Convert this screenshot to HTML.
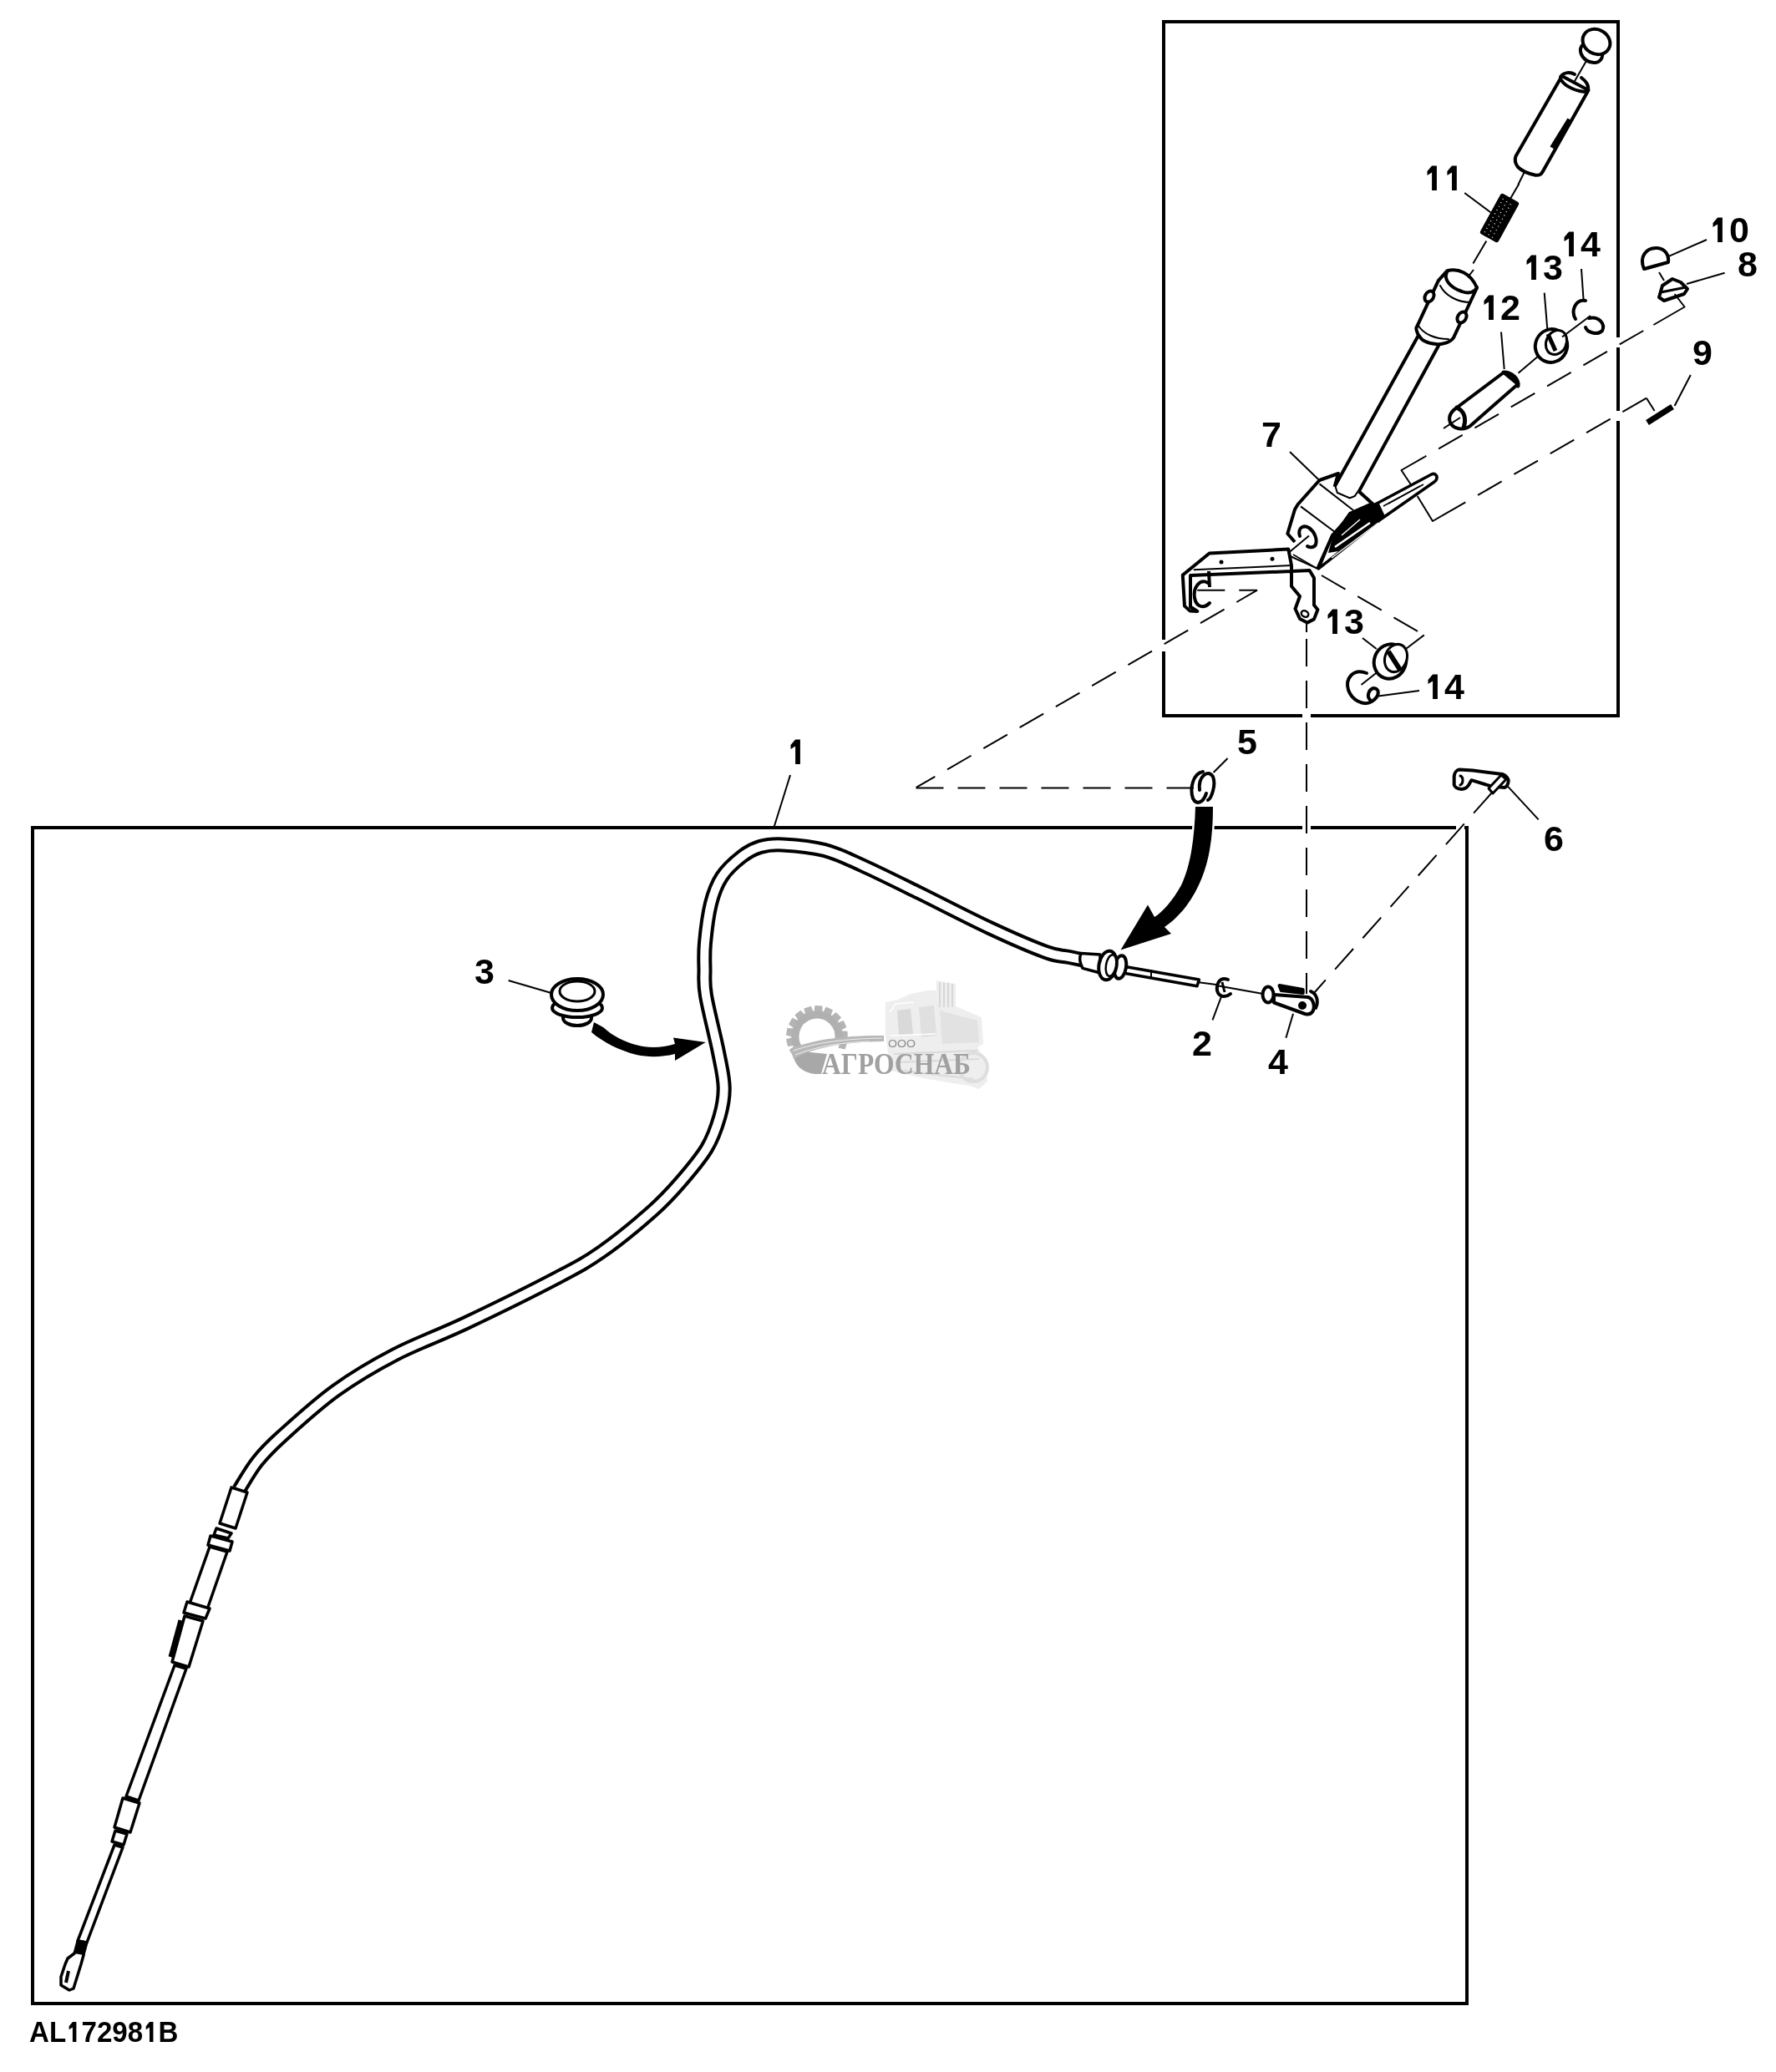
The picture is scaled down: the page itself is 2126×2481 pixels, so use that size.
<!DOCTYPE html>
<html><head><meta charset="utf-8">
<style>
html,body{margin:0;padding:0;background:#fff;}
svg{display:block;will-change:transform;}
text{font-family:"Liberation Sans",sans-serif;font-weight:bold;fill:#000;}
</style></head>
<body>
<svg width="2126" height="2481" viewBox="0 0 2126 2481">
<rect x="0" y="0" width="2126" height="2481" fill="#fff"/>

<!-- ===== boxes ===== -->
<g fill="none" stroke="#000" stroke-width="4">
<rect x="1393" y="26" width="544" height="831"/>
<rect x="39" y="991" width="1717" height="1408"/>
</g>

<path d="M1318.0 1154.0 C1311.7 1152.7 1291.0 1148.3 1280.0 1146.0 C1269.0 1143.7 1267.9 1145.8 1252.0 1140.0 C1236.1 1134.2 1209.8 1122.8 1184.5 1111.0 C1159.2 1099.2 1125.2 1081.4 1100.0 1069.0 C1074.8 1056.6 1051.8 1045.1 1033.0 1036.6 C1014.2 1028.1 1003.0 1022.2 987.0 1018.0 C971.0 1013.8 949.8 1012.1 937.0 1011.4 C924.2 1010.7 918.2 1011.6 910.0 1014.0 C901.8 1016.4 895.3 1020.0 887.6 1026.0 C879.9 1032.0 870.1 1040.7 864.0 1050.0 C857.9 1059.3 854.3 1068.8 851.0 1082.0 C847.7 1095.2 845.2 1116.0 844.0 1129.0 C842.8 1142.0 843.3 1149.5 843.5 1160.0 C843.7 1170.5 842.2 1175.3 845.0 1192.0 C847.8 1208.7 856.4 1241.7 860.0 1260.0 C863.6 1278.3 866.5 1289.2 866.7 1302.0 C867.0 1314.8 865.0 1324.8 861.5 1337.0 C858.0 1349.2 853.8 1362.0 846.0 1375.0 C838.2 1388.0 825.8 1402.5 815.0 1415.0 C804.2 1427.5 796.8 1436.0 781.0 1450.0 C765.2 1464.0 739.3 1485.5 720.0 1499.0 C700.7 1512.5 692.0 1516.8 665.0 1531.0 C638.0 1545.2 590.0 1568.8 558.0 1584.0 C526.0 1599.2 499.0 1608.5 473.0 1622.0 C447.0 1635.5 424.7 1648.7 402.0 1665.0 C379.3 1681.3 352.7 1705.8 337.0 1720.0 C321.3 1734.2 316.5 1739.3 308.0 1750.0 C299.5 1760.7 289.7 1778.3 286.0 1784.0" fill="none" stroke="#000" stroke-width="18" stroke-linejoin="round"/>
<path d="M1318.0 1154.0 C1311.7 1152.7 1291.0 1148.3 1280.0 1146.0 C1269.0 1143.7 1267.9 1145.8 1252.0 1140.0 C1236.1 1134.2 1209.8 1122.8 1184.5 1111.0 C1159.2 1099.2 1125.2 1081.4 1100.0 1069.0 C1074.8 1056.6 1051.8 1045.1 1033.0 1036.6 C1014.2 1028.1 1003.0 1022.2 987.0 1018.0 C971.0 1013.8 949.8 1012.1 937.0 1011.4 C924.2 1010.7 918.2 1011.6 910.0 1014.0 C901.8 1016.4 895.3 1020.0 887.6 1026.0 C879.9 1032.0 870.1 1040.7 864.0 1050.0 C857.9 1059.3 854.3 1068.8 851.0 1082.0 C847.7 1095.2 845.2 1116.0 844.0 1129.0 C842.8 1142.0 843.3 1149.5 843.5 1160.0 C843.7 1170.5 842.2 1175.3 845.0 1192.0 C847.8 1208.7 856.4 1241.7 860.0 1260.0 C863.6 1278.3 866.5 1289.2 866.7 1302.0 C867.0 1314.8 865.0 1324.8 861.5 1337.0 C858.0 1349.2 853.8 1362.0 846.0 1375.0 C838.2 1388.0 825.8 1402.5 815.0 1415.0 C804.2 1427.5 796.8 1436.0 781.0 1450.0 C765.2 1464.0 739.3 1485.5 720.0 1499.0 C700.7 1512.5 692.0 1516.8 665.0 1531.0 C638.0 1545.2 590.0 1568.8 558.0 1584.0 C526.0 1599.2 499.0 1608.5 473.0 1622.0 C447.0 1635.5 424.7 1648.7 402.0 1665.0 C379.3 1681.3 352.7 1705.8 337.0 1720.0 C321.3 1734.2 316.5 1739.3 308.0 1750.0 C299.5 1760.7 289.7 1778.3 286.0 1784.0" fill="none" stroke="#fff" stroke-width="10" stroke-linejoin="round"/>
<rect x="1559.0" y="987.0" width="10.0" height="8.0" fill="#fff"/>
<rect x="1559.0" y="853.0" width="10.0" height="8.0" fill="#fff"/>
<rect x="1743.0" y="986.0" width="10.0" height="8.0" fill="#fff"/>
<rect x="1752.0" y="986.0" width="8.0" height="3.0" fill="#fff"/>
<rect x="1389.0" y="766.0" width="8.0" height="14.0" fill="#fff"/>
<rect x="1933.0" y="404.0" width="8.0" height="12.0" fill="#fff"/>
<rect x="1933.0" y="492.0" width="8.0" height="12.0" fill="#fff"/>
<path d="M1096.5 943.6 L1429.0 943.6" fill="none" stroke="#000" stroke-width="2" stroke-dasharray="33 17" stroke-dashoffset="0"/>
<path d="M1096.8 942.8 L1505.0 706.7" fill="none" stroke="#000" stroke-width="2" stroke-dasharray="33 17" stroke-dashoffset="7"/>
<line x1="1564.0" y1="746.0" x2="1564.0" y2="757.0" stroke="#000" stroke-width="2"/>
<path d="M1564.0 765.0 L1564.0 1190.0" fill="none" stroke="#000" stroke-width="2" stroke-dasharray="33 17" stroke-dashoffset="0"/>
<path d="M1786.0 949.0 L1573.0 1189.0" fill="none" stroke="#000" stroke-width="2" stroke-dasharray="33 17" stroke-dashoffset="0"/>
<path d="M277 1781 L296 1787 L282 1830 L263 1824 Z" fill="#fff" stroke="#000" stroke-width="3.5" stroke-linejoin="round" stroke-linecap="round" />
<path d="M259 1830 L277 1836 L273 1842 L256 1838 Z" fill="#fff" stroke="#000" stroke-width="3.5" stroke-linejoin="round" stroke-linecap="round" />
<path d="M252 1839 L278 1846 L275 1857 L249 1850 Z" fill="#fff" stroke="#000" stroke-width="3.5" stroke-linejoin="round" stroke-linecap="round" />
<path d="M251 1852 L272 1858 L248 1927 L227 1920 Z" fill="#fff" stroke="#000" stroke-width="3.5" stroke-linejoin="round" stroke-linecap="round" />
<path d="M224 1918 L251 1926 L246 1938 L220 1931 Z" fill="#fff" stroke="#000" stroke-width="3.5" stroke-linejoin="round" stroke-linecap="round" />
<path d="M221 1935 L243 1941 L226 1996 L206 1990 Z" fill="#fff" stroke="#000" stroke-width="3.5" stroke-linejoin="round" stroke-linecap="round" />
<path d="M209 1994 L223 1998 L166 2156 L151 2151 Z" fill="#fff" stroke="#000" stroke-width="3.5" stroke-linejoin="round" stroke-linecap="round" />
<path d="M147 2153 L167 2159 L156 2194 L137 2188 Z" fill="#fff" stroke="#000" stroke-width="3.5" stroke-linejoin="round" stroke-linecap="round" />
<path d="M138 2192 L152 2196 L148 2209 L134 2205 Z" fill="#fff" stroke="#000" stroke-width="3.5" stroke-linejoin="round" stroke-linecap="round" />
<path d="M137 2209 L147 2212 L104 2326 L93 2324 Z" fill="#fff" stroke="#000" stroke-width="3.5" stroke-linejoin="round" stroke-linecap="round" />
<line x1="216.0" y1="1940.0" x2="204.0" y2="1984.0" stroke="#000" stroke-width="5"/>
<path d="M93 2324 L104 2326 L100 2341 L89 2339 Z" fill="#000" stroke="#000" stroke-width="3" stroke-linejoin="round"/>
<path d="M89 2339 L81 2345 L78 2352 L73 2367 L73 2377 L83 2383 L88 2381 L97 2352 L100 2341" fill="#fff" stroke="#000" stroke-width="3.5" stroke-linejoin="round" stroke-linecap="round" />
<line x1="82.0" y1="2360.0" x2="79.0" y2="2374.0" stroke="#000" stroke-width="4"/>
<path d="M1294 1141.4 L1317 1143 L1317 1165 L1296 1159.4 C1292 1152 1292 1146 1294 1141.4 Z" fill="#fff" stroke="#000" stroke-width="3.5" stroke-linejoin="round" stroke-linecap="round" />
<path d="M1338.6 1156.0 L1435.4 1173.0 L1433.0 1180.8 L1338.6 1164.0 Z" fill="#fff" stroke="#000" stroke-width="3.5" stroke-linejoin="round" stroke-linecap="round" />
<line x1="1378.0" y1="1161.0" x2="1378.0" y2="1171.0" stroke="#000" stroke-width="2"/>
<ellipse cx="1341.0" cy="1158.0" rx="7.0" ry="14.0" transform="rotate(10.0 1341.0 1158.0)" fill="#fff" stroke="#000" stroke-width="4"/>
<ellipse cx="1326.0" cy="1156.0" rx="10.5" ry="17.5" transform="rotate(10.0 1326.0 1156.0)" fill="#fff" stroke="#000" stroke-width="4"/>
<ellipse cx="1330.0" cy="1156.0" rx="6.0" ry="13.0" transform="rotate(10.0 1330.0 1156.0)" fill="#fff" stroke="#000" stroke-width="2.5"/>
<line x1="1435.0" y1="1176.3" x2="1456.0" y2="1179.0" stroke="#000" stroke-width="2"/>
<line x1="1899.5" y1="72.0" x2="1884.8" y2="97.4" stroke="#000" stroke-width="2"/>
<ellipse cx="1905.0" cy="63.0" rx="14.0" ry="11.0" transform="rotate(35.0 1905.0 63.0)" fill="#fff" stroke="#000" stroke-width="4"/>
<ellipse cx="1911.0" cy="50.0" rx="17.0" ry="14.5" transform="rotate(30.0 1911.0 50.0)" fill="#fff" stroke="#000" stroke-width="4"/>
<path d="M1869.7 91 L1901.5 108 L1847 205 C1845 209 1843 210 1838 209.7 C1830 208 1822 205 1817 200 C1814 196 1813 191 1814.5 187 Z" fill="#fff" stroke="#000" stroke-width="4" stroke-linejoin="round" stroke-linecap="round" />
<path d="M1868 92 C1872 86 1880 86 1885 89" fill="none" stroke="#000" stroke-width="4" stroke-linejoin="round" stroke-linecap="round" />
<path d="M1869 96 C1874 104 1888 110 1900 110" fill="none" stroke="#000" stroke-width="4" stroke-linejoin="round" stroke-linecap="round" />
<path d="M1893 93 C1898 97 1902 101 1901 108" fill="none" stroke="#000" stroke-width="4" stroke-linejoin="round" stroke-linecap="round" />
<line x1="1879.0" y1="143.0" x2="1858.0" y2="177.0" stroke="#000" stroke-width="6"/>
<line x1="1824.8" y1="206.0" x2="1817.4" y2="221.0" stroke="#000" stroke-width="2"/>
<g transform="rotate(28.8 1795 261)"><rect x="1782.5" y="233.5" width="25" height="55" rx="3" fill="#000"/><line x1="1787" y1="239.0" x2="1803" y2="241.0" stroke="#fff" stroke-width="0.9" stroke-dasharray="1.5 4"/><line x1="1787" y1="244.0" x2="1803" y2="246.0" stroke="#fff" stroke-width="0.9" stroke-dasharray="1.5 4"/><line x1="1787" y1="249.0" x2="1803" y2="251.0" stroke="#fff" stroke-width="0.9" stroke-dasharray="1.5 4"/><line x1="1787" y1="254.0" x2="1803" y2="256.0" stroke="#fff" stroke-width="0.9" stroke-dasharray="1.5 4"/><line x1="1787" y1="259.0" x2="1803" y2="261.0" stroke="#fff" stroke-width="0.9" stroke-dasharray="1.5 4"/><line x1="1787" y1="264.0" x2="1803" y2="266.0" stroke="#fff" stroke-width="0.9" stroke-dasharray="1.5 4"/><line x1="1787" y1="269.0" x2="1803" y2="271.0" stroke="#fff" stroke-width="0.9" stroke-dasharray="1.5 4"/><line x1="1787" y1="274.0" x2="1803" y2="276.0" stroke="#fff" stroke-width="0.9" stroke-dasharray="1.5 4"/><line x1="1787" y1="279.0" x2="1803" y2="281.0" stroke="#fff" stroke-width="0.9" stroke-dasharray="1.5 4"/><line x1="1787" y1="284.0" x2="1803" y2="286.0" stroke="#fff" stroke-width="0.9" stroke-dasharray="1.5 4"/></g>
<line x1="1807.8" y1="238.3" x2="1818.4" y2="220.0" stroke="#000" stroke-width="2"/>
<line x1="1779.3" y1="288.5" x2="1763.4" y2="315.6" stroke="#000" stroke-width="2"/>
<line x1="1753.2" y1="231.0" x2="1785.0" y2="254.7" stroke="#000" stroke-width="2"/>
<path d="M1700.5 397.0 L1723.6 411.0 L1626.8 588.4 L1622.3 595.0 L1615.6 597.4 L1600.0 590.7 L1597.6 582.8 Z" fill="#fff" stroke="#000" stroke-width="4" stroke-linejoin="round" stroke-linecap="round" />
<path d="M1732.5 324.2 C1745 321 1760 326 1768 344.5 L1740 404.4 C1736 410 1726 413 1719 412 C1710 411 1702 408 1699.7 403.4 C1695 398 1695 392 1695.8 391.8 L1721.9 335.8 Z" fill="#fff" stroke="#000" stroke-width="4" stroke-linejoin="round" stroke-linecap="round" />
<path d="M1732 326 C1728 334 1735 344 1750 349 C1758 352 1766 350 1768 344" fill="none" stroke="#000" stroke-width="4" stroke-linejoin="round" stroke-linecap="round" />
<path d="M1724 342 C1730 354 1745 362 1760 362" fill="none" stroke="#000" stroke-width="2" stroke-linejoin="round" stroke-linecap="round" />
<path d="M1698 390 C1704 400 1718 406 1734 406" fill="none" stroke="#000" stroke-width="2" stroke-linejoin="round" stroke-linecap="round" />
<ellipse cx="1711.0" cy="355.0" rx="5.0" ry="7.0" transform="rotate(30.0 1711.0 355.0)" fill="#fff" stroke="#000" stroke-width="4"/>
<ellipse cx="1750.0" cy="380.0" rx="5.0" ry="7.0" transform="rotate(30.0 1750.0 380.0)" fill="#fff" stroke="#000" stroke-width="4"/>
<line x1="1764.0" y1="323.0" x2="1757.0" y2="332.0" stroke="#000" stroke-width="2"/>
<path d="M1602.0 567.0 L1579.5 575.0 L1553.6 604.0 L1550.0 610.0 L1541.3 639.0 L1550.0 649.0 L1567.6 680.8 L1577.3 680.8 L1595.0 641.0 L1620.0 613.0 L1642.6 603.0 L1626.8 588.4 L1622.3 595.0 L1615.6 597.4 L1600.0 590.7 L1597.6 582.8 Z" fill="#fff" stroke="#000" stroke-width="0" stroke-linejoin="round" stroke-linecap="round" />
<path d="M1550.0 649.0 L1541.3 639.0 L1550.0 610.0 L1553.6 604.0 L1579.5 575.0 L1602.0 567.0 L1597.6 582.8" fill="none" stroke="#000" stroke-width="4" stroke-linejoin="round"/>
<path d="M1577.3 680.8 L1595.0 641.0 L1620.0 613.0 L1642.6 603.0" fill="none" stroke="#000" stroke-width="4" stroke-linejoin="round"/>
<line x1="1579.5" y1="579.4" x2="1620.0" y2="611.0" stroke="#000" stroke-width="2"/>
<line x1="1557.0" y1="606.4" x2="1597.6" y2="636.8" stroke="#000" stroke-width="2"/>
<line x1="1626.8" y1="588.4" x2="1645.0" y2="605.0" stroke="#000" stroke-width="4"/>
<path d="M1556 642 C1553 632 1560 628 1567 632 C1574 637 1577 646 1575 652 C1573 656 1568 656 1565 654" fill="none" stroke="#000" stroke-width="4" stroke-linejoin="round" stroke-linecap="round" />
<path d="M1567.0 641.4 L1540.0 664.0 L1577.3 680.8" fill="none" stroke="#000" stroke-width="2" stroke-linejoin="round"/>
<path d="M1548.0 664.0 L1577.0 681.0" fill="none" stroke="#000" stroke-width="1.5" stroke-linejoin="round"/>
<path d="M1648 603 L1713.5 568 C1718 566 1722 570 1719 575 L1717 577 L1654 621 L1578.4 680.8 L1595 641 Z" fill="#fff" stroke="#000" stroke-width="3.5" stroke-linejoin="round" stroke-linecap="round" />
<path d="M1615 613 L1650 601 L1658 618 L1602 660 L1590 662 L1596 640 Z" fill="#000"/>
<line x1="1606.0" y1="641.0" x2="1628.0" y2="622.0" stroke="#fff" stroke-width="1.5"/>
<line x1="1598.0" y1="655.0" x2="1640.0" y2="626.0" stroke="#fff" stroke-width="2.5"/>
<line x1="1594.0" y1="668.0" x2="1650.0" y2="626.0" stroke="#fff" stroke-width="1.5"/>
<line x1="1662.0" y1="603.0" x2="1700.0" y2="582.0" stroke="#000" stroke-width="1.5"/>
<line x1="1656.0" y1="606.0" x2="1704.0" y2="580.0" stroke="#000" stroke-width="1.5"/>
<line x1="1544.0" y1="541.0" x2="1580.0" y2="575.7" stroke="#000" stroke-width="2"/>
<path d="M1447.7 662.5 L1542.3 657.6 L1546.0 677.0 L1546.0 702.0 L1556.0 714.0 L1550.5 729.0 L1556.0 741.0 L1564.8 745.6 L1573.0 741.4 L1577.4 730.0 L1573.0 724.5 L1573.0 692.0 L1567.6 683.0 L1546.0 684.0 L1425.0 689.0 L1425.0 726.5 L1433.3 732.0 L1424.3 731.4 L1418.0 725.6 L1415.8 688.6 L1418.0 686.8 Z" fill="#fff" stroke="#000" stroke-width="4" stroke-linejoin="round" stroke-linecap="round" />
<line x1="1428.8" y1="682.3" x2="1546.0" y2="677.0" stroke="#000" stroke-width="2"/>
<circle cx="1462" cy="673" r="2.5" fill="#000"/><circle cx="1523" cy="669.3" r="2.5" fill="#000"/>
<ellipse cx="1562.0" cy="735.0" rx="4.5" ry="3.5" transform="rotate(30.0 1562.0 735.0)" fill="#fff" stroke="#000" stroke-width="2.5"/>
<path d="M1446 698 C1436 692 1428 704 1430 716 C1432 726 1440 730 1448 722" fill="none" stroke="#000" stroke-width="4" stroke-linejoin="round" stroke-linecap="round" />
<line x1="1447.0" y1="684.0" x2="1448.0" y2="703.0" stroke="#000" stroke-width="4"/>
<path d="M1582.0 689.0 L1704.8 760.4" fill="none" stroke="#000" stroke-width="2" stroke-dasharray="33 17" stroke-dashoffset="0"/>
<line x1="1704.8" y1="760.4" x2="1681.6" y2="778.0" stroke="#000" stroke-width="2"/>
<path d="M1433.3 706.7 L1505.0 706.7" fill="none" stroke="#000" stroke-width="2" stroke-dasharray="33 17" stroke-dashoffset="0"/>
<line x1="1660.5" y1="795.5" x2="1629.5" y2="820.0" stroke="#000" stroke-width="2"/>
<ellipse cx="1664.0" cy="792.0" rx="19.0" ry="21.0" transform="rotate(20.0 1664.0 792.0)" fill="#fff" stroke="#000" stroke-width="4"/>
<ellipse cx="1671.0" cy="788.0" rx="13.0" ry="17.0" transform="rotate(20.0 1671.0 788.0)" fill="#fff" stroke="#000" stroke-width="3"/>
<line x1="1662.0" y1="780.0" x2="1676.0" y2="802.0" stroke="#000" stroke-width="6"/>
<path d="M1636 806 C1620 800 1610 812 1614 826 C1618 838 1632 846 1642 840 C1652 834 1652 824 1644 824 C1638 826 1636 834 1640 838" fill="none" stroke="#000" stroke-width="4" stroke-linejoin="round" stroke-linecap="round" />
<line x1="1650.0" y1="833.5" x2="1699.0" y2="827.0" stroke="#000" stroke-width="2"/>
<line x1="1631.0" y1="764.0" x2="1647.8" y2="777.0" stroke="#000" stroke-width="2"/>
<path d="M1800 446 L1817 460 L1760 510 C1752 516 1740 514 1736 506 C1733 498 1738 492 1744 488 Z" fill="#fff" stroke="#000" stroke-width="4" stroke-linejoin="round" stroke-linecap="round" />
<path d="M1744 488 C1752 492 1756 500 1752 512" fill="none" stroke="#000" stroke-width="5" stroke-linejoin="round" stroke-linecap="round" />
<path d="M1800 446 C1810 446 1818 454 1817 462" fill="none" stroke="#000" stroke-width="5" stroke-linejoin="round" stroke-linecap="round" />
<line x1="1817.5" y1="446.7" x2="1848.7" y2="420.3" stroke="#000" stroke-width="2"/>
<line x1="1748.0" y1="500.0" x2="1728.0" y2="513.0" stroke="#000" stroke-width="2"/>
<line x1="1797.0" y1="397.5" x2="1800.7" y2="442.0" stroke="#000" stroke-width="2"/>
<ellipse cx="1857.0" cy="414.0" rx="19.0" ry="20.0" transform="rotate(25.0 1857.0 414.0)" fill="#fff" stroke="#000" stroke-width="4"/>
<ellipse cx="1863.0" cy="410.0" rx="12.0" ry="15.0" transform="rotate(25.0 1863.0 410.0)" fill="#fff" stroke="#000" stroke-width="3"/>
<line x1="1853.0" y1="400.0" x2="1862.0" y2="420.0" stroke="#000" stroke-width="5"/>
<line x1="1848.7" y1="350.7" x2="1852.3" y2="394.0" stroke="#000" stroke-width="2"/>
<line x1="1870.0" y1="403.5" x2="1904.0" y2="378.0" stroke="#000" stroke-width="2"/>
<path d="M1898 360 C1886 358 1880 372 1886 382" fill="none" stroke="#000" stroke-width="4" stroke-linejoin="round" stroke-linecap="round" />
<path d="M1902 381 C1914 378 1922 388 1918 396 C1912 402 1900 398 1898 392" fill="none" stroke="#000" stroke-width="4" stroke-linejoin="round" stroke-linecap="round" />
<line x1="1893.0" y1="322.0" x2="1895.5" y2="358.0" stroke="#000" stroke-width="2"/>
<path d="M1968 322 C1962 308 1970 296 1984 297 C1994 298 1998 306 1997 314 Z" fill="#fff" stroke="#000" stroke-width="4" stroke-linejoin="round" stroke-linecap="round" />
<line x1="1970.0" y1="322.0" x2="1997.0" y2="314.0" stroke="#000" stroke-width="3"/>
<line x1="1996.0" y1="307.6" x2="2043.0" y2="287.0" stroke="#000" stroke-width="2"/>
<line x1="1986.0" y1="326.0" x2="1992.0" y2="336.0" stroke="#000" stroke-width="2"/>
<path d="M1990.0 342.0 L2002.0 334.0 L2012.0 338.0 L2020.0 346.0 L2016.0 352.0 L1992.0 360.0 L1986.0 356.0 Z" fill="#fff" stroke="#000" stroke-width="4" stroke-linejoin="round" stroke-linecap="round" />
<line x1="1988.0" y1="350.0" x2="2018.0" y2="344.0" stroke="#000" stroke-width="3"/>
<line x1="2019.0" y1="340.0" x2="2064.6" y2="326.8" stroke="#000" stroke-width="2"/>
<path d="M2004.6 352.0 L2016.6 367.5 L1979.4 389.0" fill="none" stroke="#000" stroke-width="2" stroke-linejoin="round"/>
<path d="M1979.4 389.0 L1705.7 546.8" fill="none" stroke="#000" stroke-width="2" stroke-dasharray="33 17" stroke-dashoffset="-14"/>
<path d="M1705.7 546.8 L1677.5 563.0 L1688.8 580.0" fill="none" stroke="#000" stroke-width="2" stroke-linejoin="round"/>
<line x1="1972.0" y1="506.0" x2="2002.0" y2="487.0" stroke="#000" stroke-width="7"/>
<line x1="2004.6" y1="486.0" x2="2023.8" y2="449.0" stroke="#000" stroke-width="2"/>
<path d="M1980.6 492.0 L1971.0 476.7" fill="none" stroke="#000" stroke-width="2" stroke-linejoin="round"/>
<path d="M1971.0 476.7 L1726.0 617.7" fill="none" stroke="#000" stroke-width="2" stroke-dasharray="33 17" stroke-dashoffset="0"/>
<path d="M1726.0 617.7 L1715.0 624.0 L1696.7 594.0" fill="none" stroke="#000" stroke-width="2" stroke-linejoin="round"/>
<line x1="1452.6" y1="925.0" x2="1469.6" y2="908.0" stroke="#000" stroke-width="2"/>
<line x1="1804.7" y1="941.4" x2="1841.7" y2="981.4" stroke="#000" stroke-width="2"/>
<line x1="946.0" y1="928.0" x2="926.7" y2="990.0" stroke="#000" stroke-width="2"/>
<line x1="608.6" y1="1174.0" x2="661.6" y2="1189.5" stroke="#000" stroke-width="2"/>
<line x1="1462.0" y1="1193.4" x2="1451.5" y2="1221.4" stroke="#000" stroke-width="2"/>
<line x1="1548.0" y1="1213.7" x2="1539.4" y2="1242.7" stroke="#000" stroke-width="2"/>
<path d="M1440 924 C1428 926 1424 944 1428 956 C1432 964 1440 962 1444 950" fill="none" stroke="#000" stroke-width="4" stroke-linejoin="round" stroke-linecap="round" />
<path d="M1436 946 C1434 930 1446 920 1452 930 C1456 940 1450 956 1446 958" fill="none" stroke="#000" stroke-width="4" stroke-linejoin="round" stroke-linecap="round" />
<path d="M1747 921.6 L1763 922.5 L1798.4 927 C1804 929 1806 933 1805.6 936 C1805 940 1804 942 1801 943 L1785 941.4 L1761.4 934.2 C1759 938 1758 941 1757 941.4 C1755 944 1752 945 1749.7 945 C1744 945 1741 942 1740.7 939.6 L1740.7 929.7 C1741 925 1744 922 1747 921.6 Z" fill="#fff" stroke="#000" stroke-width="4" stroke-linejoin="round" stroke-linecap="round" />
<path d="M1748 929 C1752 930 1752 938 1748 940" fill="none" stroke="#000" stroke-width="3" stroke-linejoin="round" stroke-linecap="round" />
<path d="M1782.0 944.0 L1797.0 928.0 L1803.0 933.0 L1787.0 950.0 Z" fill="#fff" stroke="#000" stroke-width="3" stroke-linejoin="round" stroke-linecap="round" />
<ellipse cx="691.0" cy="1219.0" rx="17.0" ry="9.0" transform="rotate(0.0 691.0 1219.0)" fill="#fff" stroke="#000" stroke-width="4"/>
<ellipse cx="691.0" cy="1207.0" rx="30.0" ry="11.0" transform="rotate(0.0 691.0 1207.0)" fill="#fff" stroke="#000" stroke-width="4"/>
<ellipse cx="691.0" cy="1191.0" rx="31.0" ry="19.0" transform="rotate(0.0 691.0 1191.0)" fill="#fff" stroke="#000" stroke-width="4"/>
<ellipse cx="691.0" cy="1187.0" rx="21.0" ry="12.0" transform="rotate(0.0 691.0 1187.0)" fill="#fff" stroke="#000" stroke-width="3"/>
<path d="M1470 1173 C1460 1169 1456 1178 1457 1186 C1459 1194 1467 1195 1473 1190" fill="none" stroke="#000" stroke-width="4" stroke-linejoin="round" stroke-linecap="round" />
<line x1="1463.0" y1="1176.0" x2="1466.0" y2="1188.0" stroke="#000" stroke-width="3"/>
<line x1="1456.0" y1="1180.0" x2="1512.0" y2="1190.0" stroke="#000" stroke-width="2"/>
<path d="M1531.5 1180.0 L1559.7 1185.0 L1559.7 1189.0 L1533.8 1186.0 Z" fill="#000" stroke="#000" stroke-width="4" stroke-linejoin="round" stroke-linecap="round" />
<path d="M1525 1191 L1566 1194 C1572 1196 1574 1204 1572 1210 C1570 1214 1566 1215 1562 1214 L1525 1200.5 Z" fill="#fff" stroke="#000" stroke-width="4" stroke-linejoin="round" stroke-linecap="round" />
<ellipse cx="1518.0" cy="1191.0" rx="6.5" ry="9.5" transform="rotate(0.0 1518.0 1191.0)" fill="#fff" stroke="#000" stroke-width="4"/>
<circle cx="1559" cy="1204" r="5" fill="#000"/>
<path d="M1569 1187 C1576 1190 1579 1198 1575 1207" fill="none" stroke="#000" stroke-width="4" stroke-linejoin="round" stroke-linecap="round" />
<path d="M1431 966 L1452 966 C1452 1010 1446 1050 1420 1085 C1410 1098 1400 1106 1394 1110 L1402 1118 L1341.5 1137.5 L1374 1083.5 L1382 1098 C1392 1092 1404 1078 1414 1060 C1426 1035 1430 1000 1431 966 Z" fill="#000" stroke="#fff" stroke-width="5" paint-order="stroke"/>
<path d="M711 1224 L722 1230 C735 1242 752 1250 770 1253 C782 1255 795 1254 808 1250 L806 1242.6 L844.7 1248 L808 1270 L808 1262 C792 1266 776 1266 762 1263 C742 1258 722 1248 708 1236 Z" fill="#000"/>
<g><path d="M1060 1200 L1075 1197 L1090 1190 L1110 1186 L1121 1186 L1121 1174 L1144 1178 L1144 1205 L1175 1218 L1177 1250 L1170 1254 L1180 1270 L1182 1295 L1172 1304 L1160 1300 L1110 1292 L1066 1282 L1062 1252 L1060 1240 Z" fill="#eeeeee"/><path d="M1074 1210 L1090 1208 L1093 1239 L1076 1240 Z" fill="#d9d9d9"/><path d="M1100 1206 L1118 1204 L1121 1240 L1103 1242 Z" fill="#e0e0e0"/><path d="M1125 1210 L1170 1222 L1172 1248 L1128 1250 Z" fill="#e2e2e2"/><path d="M1070 1262 L1170 1258 M1072 1272 L1172 1268 M1080 1282 L1165 1292" stroke="#dadada" stroke-width="2" fill="none"/><circle cx="1165" cy="1278" r="17" fill="none" stroke="#dedede" stroke-width="4"/><path d="M1125 1176 L1125 1206 M1130 1177 L1130 1206 M1135 1177 L1135 1206 M1140 1178 L1140 1206" stroke="#cfcfcf" stroke-width="1.5"/><path d="M1065 1212 L1072 1202 L1094 1200 M1066 1240 L1120 1238" stroke="#fff" stroke-width="1.5" fill="none"/><path d="M1003.5 1254.8 L1011.6 1256.6 L1014.3 1248.1 L1006.7 1244.9 Z M1006.8 1244.7 L1014.9 1243.5 L1014.5 1234.7 L1006.2 1234.3 Z M1006.2 1234.1 L1013.4 1230.1 L1009.8 1222.0 L1002.0 1224.7 Z M1001.8 1224.5 L1007.1 1218.2 L1000.8 1211.9 L994.5 1217.2 Z M994.3 1217.0 L997.0 1209.2 L988.9 1205.6 L984.9 1212.8 Z M984.7 1212.8 L984.3 1204.5 L975.5 1204.1 L974.3 1212.2 Z M974.1 1212.3 L970.9 1204.7 L962.4 1207.4 L964.2 1215.5 Z M964.1 1215.6 L958.3 1209.7 L951.4 1215.2 L956.0 1222.1 Z M955.9 1222.2 L948.4 1218.8 L944.0 1226.5 L950.7 1231.2 Z M950.6 1231.4 L942.4 1230.9 L941.0 1239.6 L949.0 1241.7 Z M949.0 1241.9 L941.1 1244.3 L943.0 1253.0 L951.2 1252.0 Z M951.2 1252.2 L944.8 1257.3 L949.6 1264.7 L956.9 1260.9 Z" fill="#b4b4b4"/><path d="M1003.1 1247.7 A26 26 0 1 0 959.6 1259.4" fill="none" stroke="#b0b0b0" stroke-width="9"/><path d="M950 1258 C948 1272 958 1284 975 1286 L983 1286 L990 1262 Z" fill="#a8a8a8"/><path d="M946 1256 C975 1244 1010 1240 1058 1240 L1058 1247 C1010 1248 975 1254 950 1268 Z" fill="#b8b8b8"/><path d="M950 1258 C978 1248 1010 1244 1056 1243" stroke="#eee" stroke-width="1" fill="none"/><path d="M952 1263 C980 1252 1012 1248 1040 1247" stroke="#eee" stroke-width="1" fill="none"/></g>
<text x="984" y="1285.5" font-size="35" style="font-family:'Liberation Serif',serif;font-weight:bold;fill:#a0a0a0" textLength="178" lengthAdjust="spacingAndGlyphs">АГРОСНАБ</text>
<text x="1063" y="1253.5" font-size="13" style="font-family:'Liberation Sans',sans-serif;font-weight:normal;fill:#8a8a8a" textLength="33" lengthAdjust="spacingAndGlyphs">ООО</text>
<g transform="translate(942.0 915.0) scale(1.000 1)"><path d="M10.10 -29.58 L15.91 -29.58 L15.91 0.00 L10.10 0.00 L10.10 -21.50 L4.51 -18.06 L4.51 -23.01 Z" fill="#000"/></g>
<g transform="translate(1427.0 1264.0) scale(1.000 1)"><text x="0.00" y="0" font-size="43">2</text></g>
<g transform="translate(568.0 1178.0) scale(1.000 1)"><text x="0.00" y="0" font-size="43">3</text></g>
<g transform="translate(1518.0 1286.0) scale(1.000 1)"><text x="0.00" y="0" font-size="43">4</text></g>
<g transform="translate(1481.0 903.0) scale(1.000 1)"><text x="0.00" y="0" font-size="43">5</text></g>
<g transform="translate(1848.0 1019.0) scale(1.000 1)"><text x="0.00" y="0" font-size="43">6</text></g>
<g transform="translate(1510.0 535.0) scale(1.000 1)"><text x="0.00" y="0" font-size="43">7</text></g>
<g transform="translate(2080.0 331.0) scale(1.000 1)"><text x="0.00" y="0" font-size="43">8</text></g>
<g transform="translate(2026.0 437.0) scale(1.000 1)"><text x="0.00" y="0" font-size="43">9</text></g>
<g transform="translate(2046.0 290.0) scale(1.000 1)"><path d="M10.10 -29.58 L15.91 -29.58 L15.91 0.00 L10.10 0.00 L10.10 -21.50 L4.51 -18.06 L4.51 -23.01 Z" fill="#000"/><text x="23.91" y="0" font-size="43">0</text></g>
<g transform="translate(1704.0 228.0) scale(1.000 1)"><path d="M10.10 -29.58 L15.91 -29.58 L15.91 0.00 L10.10 0.00 L10.10 -21.50 L4.51 -18.06 L4.51 -23.01 Z" fill="#000"/><path d="M34.02 -29.58 L39.82 -29.58 L39.82 0.00 L34.02 0.00 L34.02 -21.50 L28.43 -18.06 L28.43 -23.01 Z" fill="#000"/></g>
<g transform="translate(1772.0 383.0) scale(1.000 1)"><path d="M10.10 -29.58 L15.91 -29.58 L15.91 0.00 L10.10 0.00 L10.10 -21.50 L4.51 -18.06 L4.51 -23.01 Z" fill="#000"/><text x="23.91" y="0" font-size="43">2</text></g>
<g transform="translate(1823.0 335.0) scale(1.000 1)"><path d="M10.10 -29.58 L15.91 -29.58 L15.91 0.00 L10.10 0.00 L10.10 -21.50 L4.51 -18.06 L4.51 -23.01 Z" fill="#000"/><text x="23.91" y="0" font-size="43">3</text></g>
<g transform="translate(1868.0 307.0) scale(1.000 1)"><path d="M10.10 -29.58 L15.91 -29.58 L15.91 0.00 L10.10 0.00 L10.10 -21.50 L4.51 -18.06 L4.51 -23.01 Z" fill="#000"/><text x="23.91" y="0" font-size="43">4</text></g>
<g transform="translate(1585.0 759.0) scale(1.000 1)"><path d="M10.10 -29.58 L15.91 -29.58 L15.91 0.00 L10.10 0.00 L10.10 -21.50 L4.51 -18.06 L4.51 -23.01 Z" fill="#000"/><text x="23.91" y="0" font-size="43">3</text></g>
<g transform="translate(1705.0 837.0) scale(1.000 1)"><path d="M10.10 -29.58 L15.91 -29.58 L15.91 0.00 L10.10 0.00 L10.10 -21.50 L4.51 -18.06 L4.51 -23.01 Z" fill="#000"/><text x="23.91" y="0" font-size="43">4</text></g>
<g transform="translate(35.0 2445.0) scale(0.946 1)"><text x="0.00" y="0" font-size="35">A</text><text x="25.28" y="0" font-size="35">L</text><path d="M54.88 -24.08 L59.61 -24.08 L59.61 0.00 L54.88 0.00 L54.88 -17.50 L50.33 -14.70 L50.33 -18.73 Z" fill="#000"/><text x="66.12" y="0" font-size="35">7</text><text x="85.59" y="0" font-size="35">2</text><text x="105.05" y="0" font-size="35">9</text><text x="124.52" y="0" font-size="35">8</text><path d="M152.21 -24.08 L156.93 -24.08 L156.93 0.00 L152.21 0.00 L152.21 -17.50 L147.66 -14.70 L147.66 -18.73 Z" fill="#000"/><text x="163.45" y="0" font-size="35">B</text></g>
</svg>
</body></html>
